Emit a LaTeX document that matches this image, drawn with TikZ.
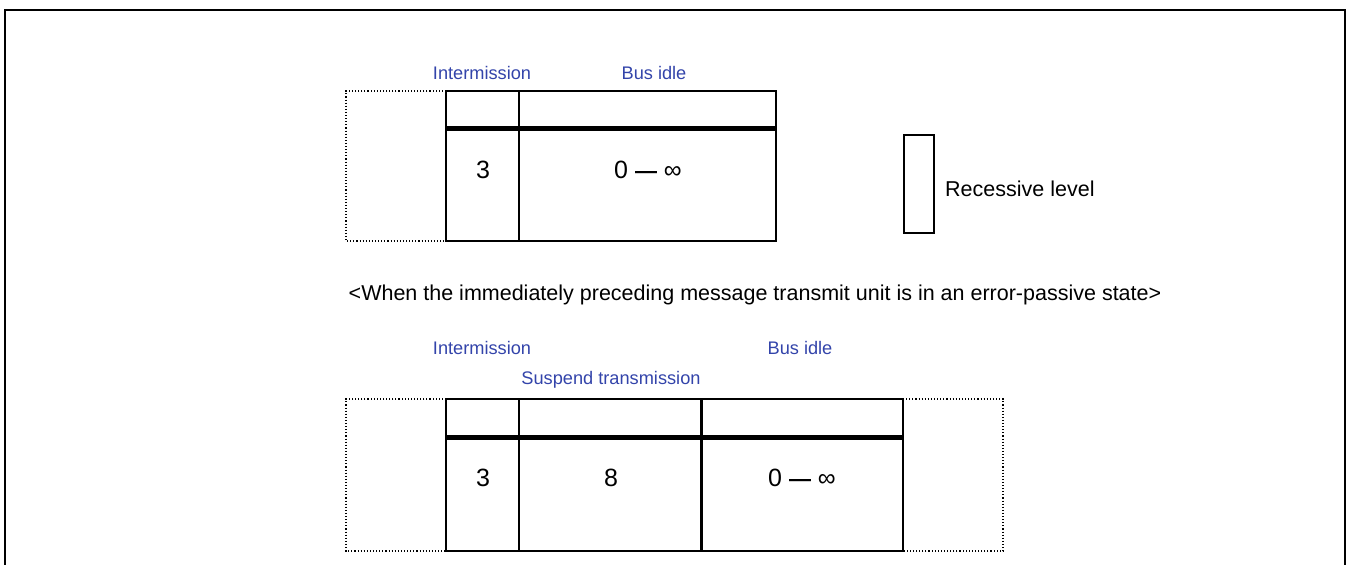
\documentclass[tikz,border=0pt]{standalone}
\usepackage{fontspec}
\setmainfont{Liberation Sans}
\usepackage{tikz}
\usetikzlibrary{positioning}

\definecolor{labelblue}{RGB}{51,68,170}
\newcommand{\zerotoinf}{0 {\bfseries\fontsize{22}{24}\selectfont —} ∞}
\tikzset{
  lbl/.style={text=labelblue,font=\fontsize{18.2}{20}\selectfont,inner sep=0pt,anchor=base},
  txt/.style={font=\fontsize{21.5}{24}\selectfont,inner sep=0pt,anchor=base},
  num/.style={font=\fontsize{25}{28}\selectfont,inner sep=0pt,anchor=base},
  cell/.style={draw,line width=1.6pt},
  idle/.style={dotted,line width=1.1pt},
}

\begin{document}
\begin{tikzpicture}[x=1pt,y=-1pt,line join=miter]
\useasboundingbox (0,0) rectangle (1353,565);
%% outer frame
  \draw [line width=2.5pt] (5,580) -- (5,10) -- (1345,10) -- (1345,580);
%% error-active case
  \draw [idle] (446,91) -- (346,91) -- (346,241) -- (446,241);
  \draw [cell] (446,91) rectangle (776,241);
  \draw [cell] (519,91) -- (519,241);
  \draw [line width=5pt] (446,128.5) -- (776,128.5);

  \node (node_0) at (482,79) [lbl] {Intermission};
  \node (node_1) at (654,79) [lbl] {Bus idle};
  \node (node_2) at (483,178) [num] {3};
  \node (node_3) at (648,178) [num] {\zerotoinf};

  \draw [cell] (904,135) rectangle (934,233);
  \node (node_4) at (945,196) [txt,anchor=base west] {Recessive level};

  \node (node_5) at (755,300) [txt] {<When the immediately preceding message transmit unit is in an error-passive state>};
%% error-passive case
  \draw [idle] (446,399) -- (346,399) -- (346,551) -- (446,551);
  \draw [idle] (903,399) -- (1003,399) -- (1003,551) -- (903,551);
  \draw [cell] (446,399) rectangle (903,551);
  \draw [cell] (519,399) -- (519,551);
  \draw [line width=3pt] (701,399) -- (701,551);
  \draw [line width=5pt] (446,437) -- (903,437);

  \node (node_6) at (482,354) [lbl] {Intermission};
  \node (node_7) at (800,354) [lbl] {Bus idle};
  \node (node_8) at (611,384) [lbl] {Suspend transmission};
  \node (node_9) at (483,486) [num] {3};
  \node (node_10) at (611,486) [num] {8};
  \node (node_11) at (802,486) [num] {\zerotoinf};
%
\end{tikzpicture}
\end{document}
